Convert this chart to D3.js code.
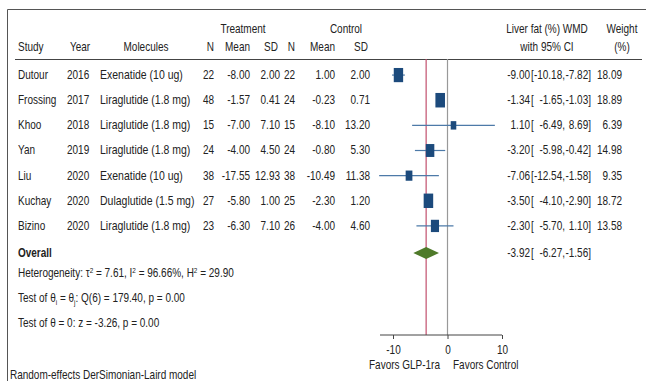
<!DOCTYPE html>
<html>
<head>
<meta charset="utf-8">
<script src="https://cdn.jsdelivr.net/npm/d3@7"></script>
<style>
  body { margin: 0; background: #fff; }
  svg text { font-family: "Liberation Sans", Arial, sans-serif; font-size: 12.5px; fill: #222; }
</style>
</head>
<body>
<div id="chart"></div>
<script>
// forest plot data
const studies   = ["Dutour", "Frossing", "Khoo", "Yan", "Liu", "Kuchay", "Bizino"];
const years     = [2016, 2017, 2018, 2019, 2020, 2020, 2020];
const molecules = ["Exenatide (10 ug)", "Liraglutide (1.8 mg)", "Liraglutide (1.8 mg)", "Liraglutide (1.8 mg)",
                   "Exenatide (10 ug)", "Dulaglutide (1.5 mg)", "Liraglutide (1.8 mg)"];
const trtN    = [22, 48, 15, 24, 38, 27, 23];
const trtMean = [-8.00, -1.57, -7.00, -4.00, -17.55, -5.80, -6.30];
const trtSD   = [2.00, 0.41, 7.10, 4.50, 12.93, 1.00, 7.10];
const ctlN    = [22, 24, 15, 24, 38, 25, 26];
const ctlMean = [1.00, -0.23, -8.10, -0.80, -10.49, -2.30, -4.00];
const ctlSD   = [2.00, 0.71, 13.20, 5.30, 11.38, 1.20, 4.60];
const wmd     = [-9.00, -1.34, 1.10, -3.20, -7.06, -3.50, -2.30];
const lower   = [-10.18, -1.65, -6.49, -5.98, -12.54, -4.10, -5.70];
const upper   = [-7.82, -1.03, 8.69, -0.42, -1.58, -2.90, 1.10];
const weights = [18.09, 18.89, 6.39, 14.98, 9.35, 18.72, 13.58];
const overall = {est: -3.92, lo: -6.27, hi: -1.56};
const axisTicks = [-10, 0, 10];

const width = 646, height = 381;
const svg = d3.select("#chart").append("svg")
    .attr("width", width)
    .attr("height", height);

// frame
svg.append("path")
    .attr("d", "M7.5,381 V9.5 H646")
    .attr("fill", "none").attr("stroke", "#555").attr("stroke-width", 1);
svg.append("line")
    .attr("x1", 15).attr("x2", 642).attr("y1", 59.5).attr("y2", 59.5)
    .attr("stroke", "#444").attr("stroke-width", 1);

// scales
let x = d3.scaleLinear().domain([-10, 10]).range([393, 502]);
let y = d3.scaleBand().domain(studies).range([62.5, 238.5]);
let yc = d => y(d) + y.bandwidth() / 2;
let boxH = d3.scaleSqrt().domain([0, d3.max(weights)]).range([0, 14.5]);

// hyphen instead of unicode minus, like the original
const fmt = v => d3.format(".2f")(v).replace("\u2212", "-");

// headers
function txt(xp, yp, s, anchor) {
    return svg.append("text").attr("x", xp).attr("y", yp)
        .attr("text-anchor", anchor || "start").text(s);
}
txt(243, 33, "Treatment", "middle");
txt(346, 33, "Control", "middle");
txt(547, 33, "Liver fat (%) WMD", "middle");
txt(622, 33, "Weight", "middle");
txt(18, 51, "Study");
txt(80, 51, "Year", "middle");
txt(146, 51, "Molecules", "middle");
txt(214, 51, "N", "end");
txt(250, 51, "Mean", "end");
txt(278, 51, "SD", "end");
txt(295, 51, "N", "end");
txt(335, 51, "Mean", "end");
txt(368, 51, "SD", "end");
txt(547, 51, "with 95% CI", "middle");
txt(622, 51, "(%)", "middle");

// table rows
const cols = [
    {x: 18,  a: "start", v: i => studies[i]},
    {x: 67,  a: "start", v: i => years[i]},
    {x: 100, a: "start", v: i => molecules[i], cls: "mol"},
    {x: 214, a: "end",   v: i => trtN[i]},
    {x: 250, a: "end",   v: i => fmt(trtMean[i])},
    {x: 280, a: "end",   v: i => fmt(trtSD[i])},
    {x: 295, a: "end",   v: i => ctlN[i]},
    {x: 335, a: "end",   v: i => fmt(ctlMean[i])},
    {x: 370, a: "end",   v: i => fmt(ctlSD[i])},
    {x: 530, a: "end",   v: i => fmt(wmd[i])},
    {x: 531, a: "start", v: i => "["},
    {x: 565, a: "end",   v: i => fmt(lower[i]) + ","},
    {x: 591, a: "end",   v: i => fmt(upper[i]) + "]"},
    {x: 622, a: "end",   v: i => fmt(weights[i])}
];
cols.forEach(c => {
    svg.append("g").selectAll("text").data(studies).enter()
        .append("text")
        .attr("class", c.cls || null)
        .attr("x", c.x)
        .attr("y", d => yc(d) + 4)
        .attr("text-anchor", c.a)
        .text((d, i) => c.v(i));
});

// reference lines
const yOverall = 253;
svg.append("line")
    .attr("x1", x(0)).attr("x2", x(0)).attr("y1", 59).attr("y2", 335)
    .attr("stroke", "#999").attr("stroke-width", 1.2);
svg.append("line")
    .attr("x1", x(overall.est)).attr("x2", x(overall.est)).attr("y1", 59).attr("y2", 335)
    .attr("stroke", "#c2506e").attr("stroke-width", 1.2);

// CIs and boxes
svg.append("g").selectAll("line").data(studies).enter()
    .append("line")
    .attr("x1", (d, i) => x(lower[i]))
    .attr("x2", (d, i) => x(upper[i]))
    .attr("y1", d => yc(d)).attr("y2", d => yc(d))
    .attr("stroke", "#4d7aa8").attr("stroke-width", 1.2);
svg.append("g").selectAll("rect").data(studies).enter()
    .append("rect")
    .attr("x", (d, i) => x(wmd[i]) - boxH(weights[i]) * 0.33)
    .attr("y", (d, i) => yc(d) - boxH(weights[i]) / 2)
    .attr("width", (d, i) => boxH(weights[i]) * 0.66)
    .attr("height", (d, i) => boxH(weights[i]))
    .attr("fill", "#1c4a7c");

// overall diamond
svg.append("path")
    .attr("d", `M${x(overall.lo)},${yOverall} L${x(overall.est)},${yOverall - 6} L${x(overall.hi)},${yOverall} L${x(overall.est)},${yOverall + 6} Z`)
    .attr("fill", "#4f7a2a");

txt(18, yOverall + 4, "Overall").style("font-weight", "bold");
txt(530, yOverall + 4, fmt(overall.est), "end");
txt(531, yOverall + 4, "[");
txt(565, yOverall + 4, fmt(overall.lo) + ",", "end");
txt(591, yOverall + 4, fmt(overall.hi) + "]", "end");

// heterogeneity notes
let h = txt(18, 277, "");
h.append("tspan").text("Heterogeneity: τ");
h.append("tspan").attr("dy", -4).style("font-size", "8px").text("2");
h.append("tspan").attr("dy", 4).text(" = 7.61, I");
h.append("tspan").attr("dy", -4).style("font-size", "8px").text("2");
h.append("tspan").attr("dy", 4).text(" = 96.66%, H");
h.append("tspan").attr("dy", -4).style("font-size", "8px").text("2");
h.append("tspan").attr("dy", 4).text(" = 29.90");

let q = txt(18, 302, "");
q.append("tspan").text("Test of θ");
q.append("tspan").attr("dy", 3).style("font-size", "8px").text("i");
q.append("tspan").attr("dy", -3).text(" = θ");
q.append("tspan").attr("dy", 3).style("font-size", "8px").text("j");
q.append("tspan").attr("dy", -3).text(": Q(6) = 179.40, p = 0.00");

txt(18, 327, "Test of θ = 0: z = -3.26, p = 0.00");
txt(10, 379, "Random-effects DerSimonian-Laird model");

// axis
let axisG = svg.append("g")
    .attr("transform", "translate(0,335)")
    .call(d3.axisBottom(x).tickValues(axisTicks).tickSize(4).tickSizeOuter(0).tickPadding(6)
        .tickFormat(d => String(d)));
axisG.select(".domain").attr("d", `M380,0H${x(10)}`).attr("stroke", "#444");
axisG.selectAll(".tick line").attr("stroke", "#444");
axisG.selectAll(".tick text").attr("fill", "#222")
    .style("font-size", "12.5px").style("font-family", null);
axisG.attr("font-family", null).attr("font-size", null);

txt(440, 369, "Favors GLP-1ra", "end");
txt(453, 369, "Favors Control", "start");

// narrow type: squeeze every label horizontally around its anchor
svg.selectAll("text").each(function() {
    const el = d3.select(this);
    const tx = +el.attr("x") || 0;
    const k = el.classed("mol") ? 0.84 : 0.8;
    el.attr("transform", `translate(${tx},0) scale(${k},1) translate(${-tx},0)`);
});
</script>
</body>
</html>
